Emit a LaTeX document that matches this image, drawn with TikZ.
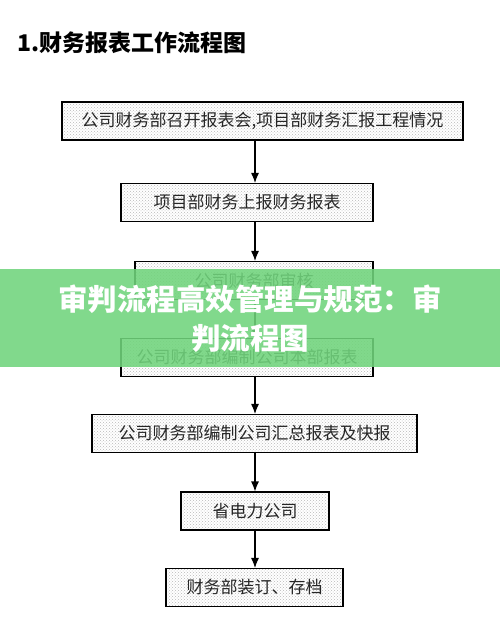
\documentclass[tikz,border=0pt]{standalone}
\usepackage{fontspec}
\newfontfamily\cjk{Noto Sans CJK SC}
\usepackage{xcolor}
\definecolor{bandgreen}{RGB}{112,212,124}
\usepackage{tikz}
\usetikzlibrary{positioning,arrows.meta,patterns}

\begin{document}
\begin{tikzpicture}[x=1pt,y=-1pt,
                      stepbox/.style={rectangle,draw=black,line width=1.1pt,
                                      preaction={fill=white},
                                      pattern=crosshatch dots,pattern color=gray!55,
                                      minimum height=38pt,inner sep=0pt,
                                      font=\cjk\fontsize{17}{19}\selectfont,
                                      text=black!85},
                      flow/.style={-{Latex[length=10pt,width=8pt]},line width=1.1pt}]
    \useasboundingbox (0,0) rectangle (500,637);
    % title
    \node[anchor=west,font=\cjk\bfseries\fontsize{23}{26}\selectfont] (title) at (14,43) {1.财务报表工作流程图};
    % steps
    \node[stepbox,minimum width=401pt] (meet) at (262.5,121) {公司财务部召开报表会,项目部财务汇报工程情况};
    \node[stepbox,minimum width=252pt] (report) at (247,202.5) {项目部财务上报财务报表};
    \node[stepbox,minimum width=238pt] (audit) at (254,280.5) {公司财务部审核};
    \node[stepbox,minimum width=252pt] (own) at (247,357.5) {公司财务部编制公司本部报表};
    \node[stepbox,minimum width=325pt] (total) at (254.5,433.5) {公司财务部编制公司汇总报表及快报};
    \node[stepbox,minimum width=148pt] (prov) at (255,511) {省电力公司};
    \node[stepbox,minimum width=177pt] (file) at (254.5,587.5) {财务部装订、存档};
    % arrows on one axis
    \coordinate (ax) at (255,0);
    \draw[flow] (meet.south -| ax) -- (report.north -| ax);
    \draw[flow] (report.south -| ax) -- (audit.north -| ax);
    \draw[flow] (audit.south -| ax) -- (own.north -| ax);
    \draw[flow] (own.south -| ax) -- (total.north -| ax);
    \draw[flow] (total.south -| ax) -- (prov.north -| ax);
    \draw[flow] (prov.south -| ax) -- (file.north -| ax);
    % green band over the chart
    \fill[bandgreen,opacity=0.88] (0,269) rectangle (500,367);
    \node[font=\cjk\bfseries\fontsize{29.5}{39}\selectfont,text=white,align=center] (band) at (250,318.5)
      {审判流程高效管理与规范：审\\判流程图};
  \end{tikzpicture}
\end{document}
